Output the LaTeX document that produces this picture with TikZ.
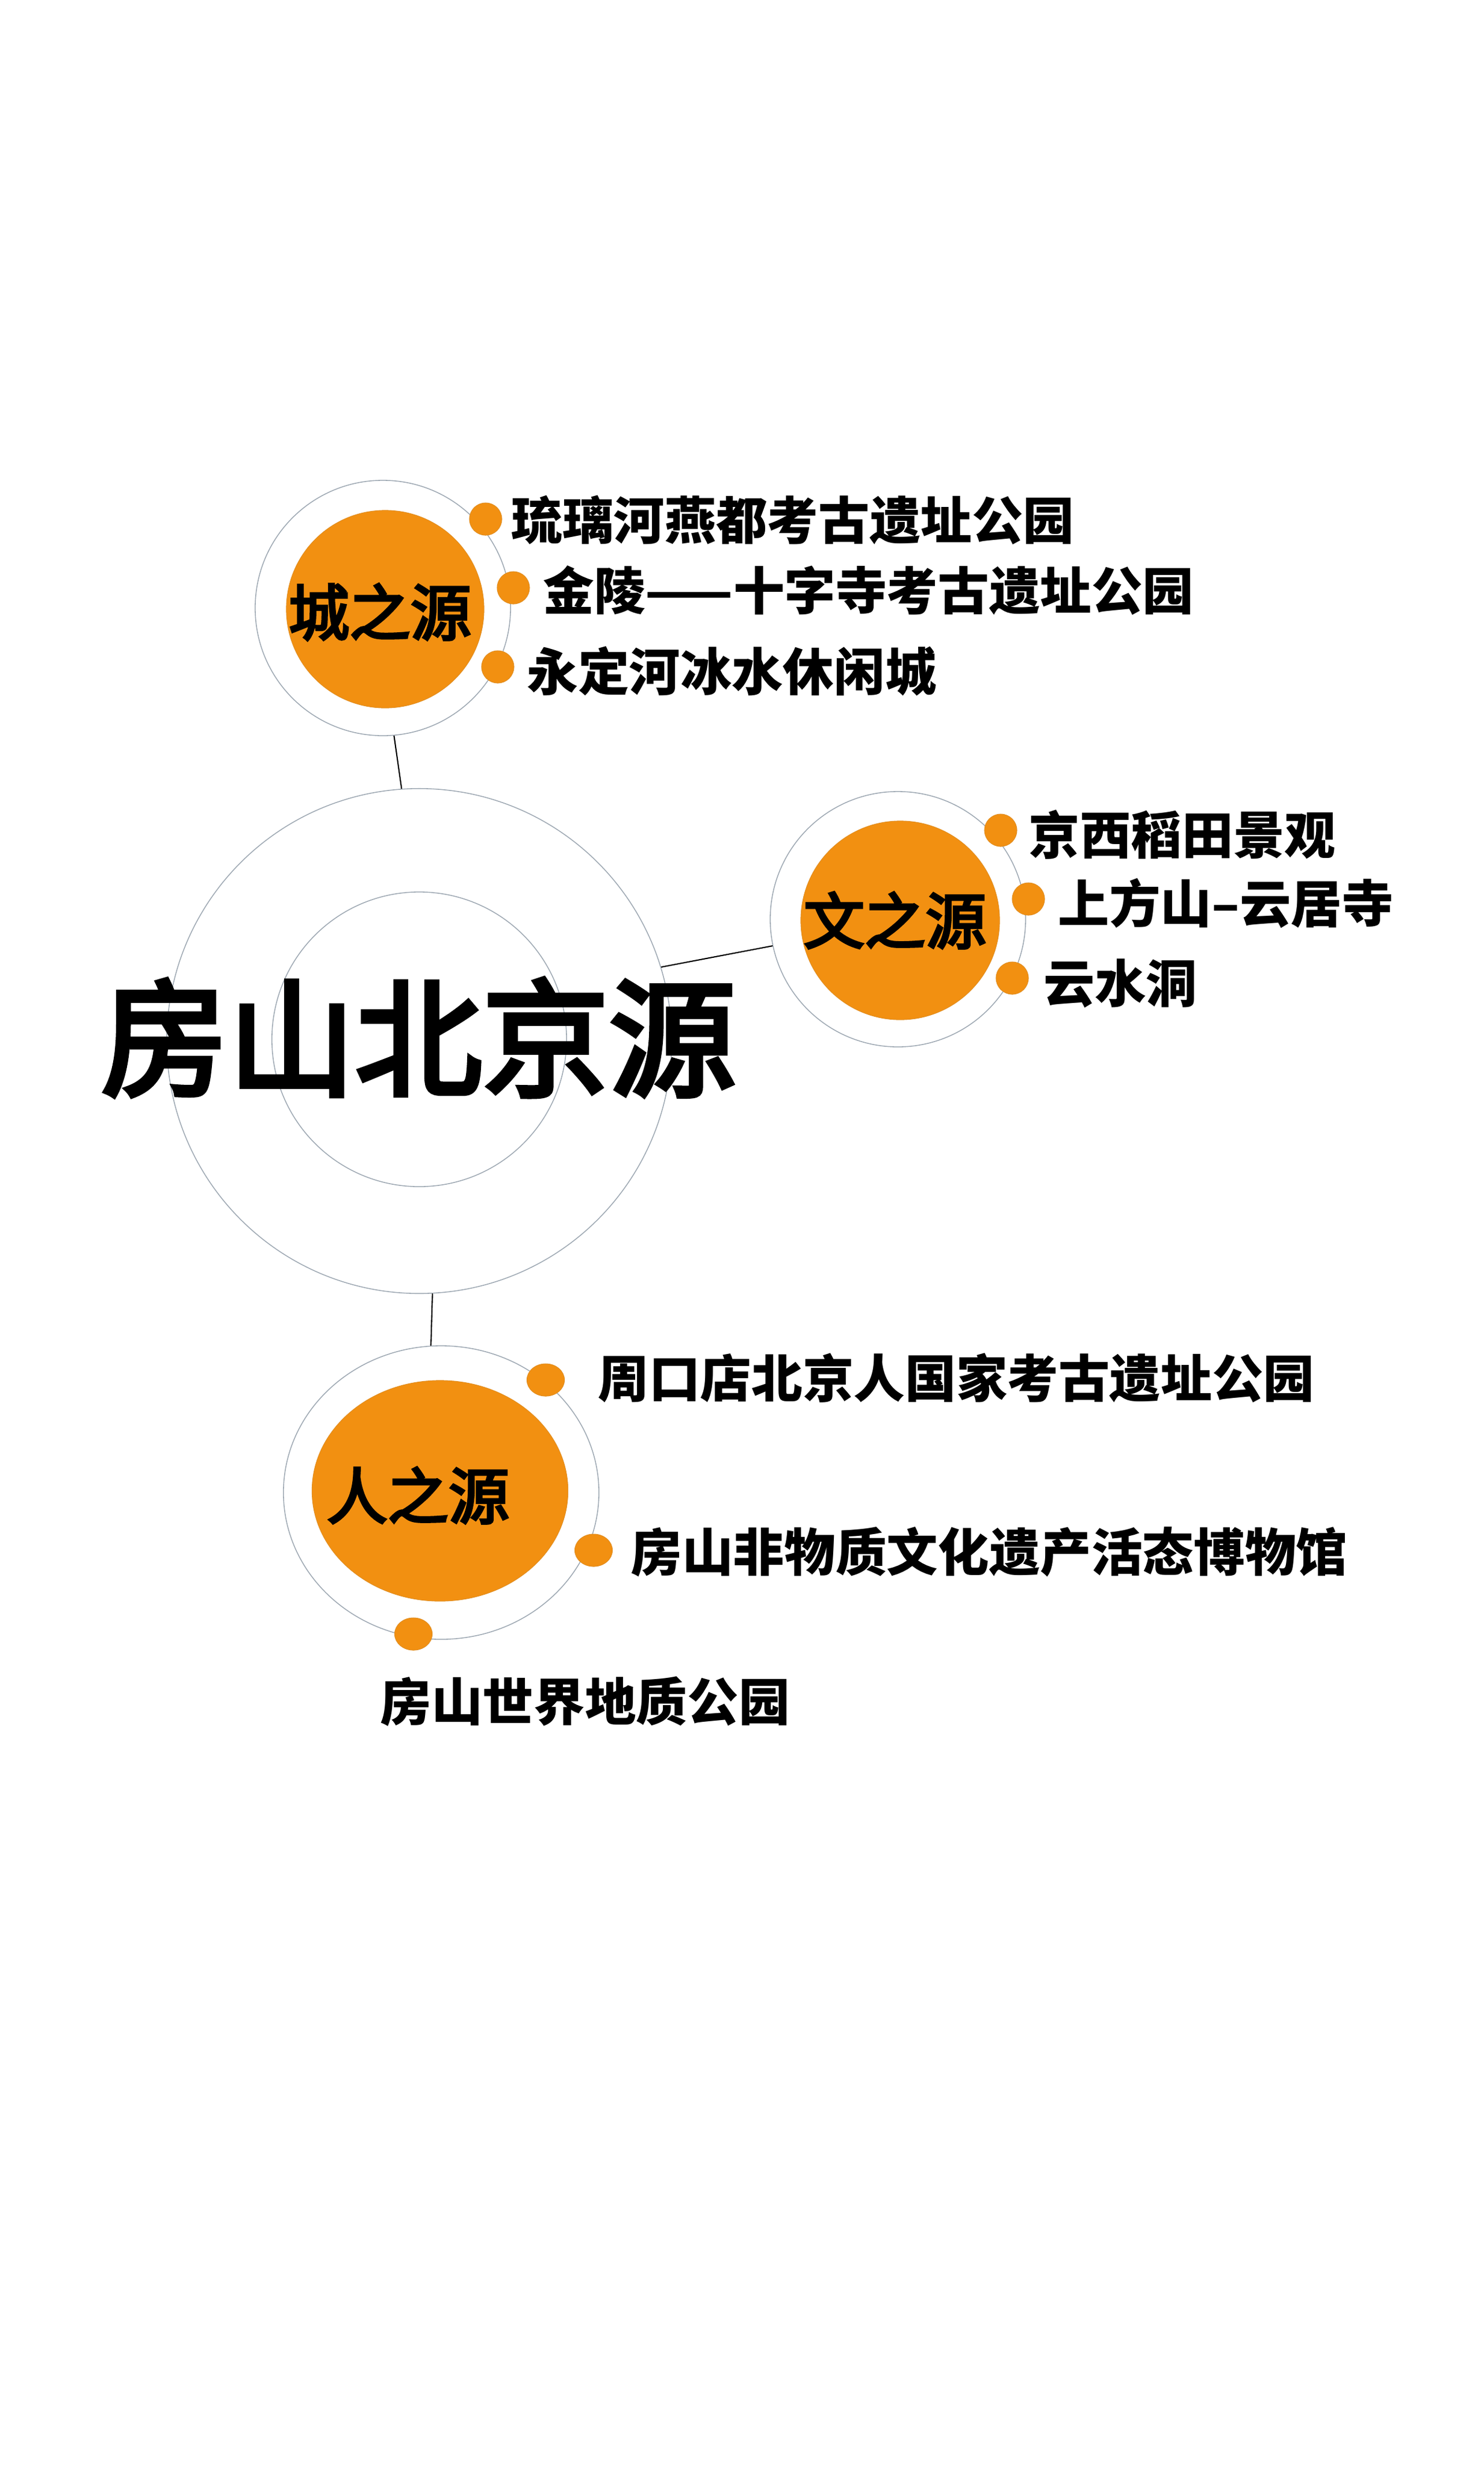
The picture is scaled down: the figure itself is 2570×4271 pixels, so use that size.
\documentclass[tikz,border=0pt]{standalone}
\usepackage{fontspec}
\setmainfont{Noto Sans CJK SC}
\newfontfamily\cjkmed{Noto Sans CJK SC}[FakeBold=4]
\usetikzlibrary{shapes.geometric}
\definecolor{srcorange}{RGB}{242,144,17}
\definecolor{ringgray}{RGB}{160,170,180}

\begin{document}
\begin{tikzpicture}[x=0.01cm, y=-0.01cm,
  ring/.style={draw=ringgray, line width=0.45pt, circle, inner sep=0pt},
  hub/.style={fill=srcorange, draw=srcorange!85!gray, line width=0.3pt, circle, inner sep=0pt},
  dot/.style={fill=srcorange, draw=srcorange!85!gray, line width=0.3pt, circle, minimum size=0.56cm, inner sep=0pt},
  hubtext/.style={inner sep=0pt, font=\fontsize{30}{36}\selectfont\cjkmed},
  item/.style={anchor=west, inner sep=0pt, font=\fontsize{25.2}{30}\selectfont\bfseries},
  link/.style={line width=0.6pt}]
\useasboundingbox (0,0) rectangle (2570,4271);
% centre
\node (main)[ring, minimum size=8.74cm] at (726,1803) {};
\node (inner)[ring, minimum size=5.10cm] at (726,1800) {};
\node (title)[inner sep=0pt, font=\fontsize{62.5}{70}\selectfont\cjkmed] at (725,1797) {房山北京源};
% cheng
\node (cring)[ring, minimum size=4.42cm] at (663,1053) {};
\node (cheng)[hub, minimum size=3.42cm] at (667,1055) {};
\node (chengT)[hubtext] at (658,1060) {城之源};
\node (c1)[dot] at (841,899) {};
\node (c2)[dot] at (889,1018) {};
\node (c3)[dot] at (862,1155) {};
\node (c1T)[item] at (885,901) {琉璃河燕都考古遗址公园};
\node (c2T)[item] at (940,1022) {金陵——十字寺考古遗址公园};
\node (c3T)[item] at (912,1162) {永定河冰水休闲城};
% wen
\node (wring)[ring, minimum size=4.42cm] at (1555,1592) {};
\node (wen)[hub, minimum size=3.44cm] at (1559,1594) {};
\node (wenT)[hubtext] at (1550,1594) {文之源};
\node (w1)[dot] at (1733,1438) {};
\node (w2)[dot] at (1781,1557) {};
\node (w3)[dot] at (1753,1694) {};
\node (w1T)[item] at (1781,1445) {京西稻田景观};
\node (w2T)[item] at (1832,1564) {上方山–云居寺};
\node (w3T)[item] at (1807,1703) {云水洞};
% ren
\node (rring)[ring, ellipse, minimum width=5.46cm, minimum height=5.08cm] at (764,2585) {};
\node (ren)[hub, ellipse, minimum width=4.43cm, minimum height=3.82cm] at (762,2582) {};
\node (renT)[hubtext] at (724,2590) {人之源};
\node (r1)[dot, ellipse, minimum width=0.65cm, minimum height=0.56cm] at (945,2390) {};
\node (r2)[dot, ellipse, minimum width=0.65cm, minimum height=0.56cm] at (1028,2685) {};
\node (r3)[dot, ellipse, minimum width=0.65cm, minimum height=0.56cm] at (716,2830) {};
\node (r1T)[item] at (1035,2386) {周口店北京人国家考古遗址公园};
\node (r2T)[item] at (1092,2688) {房山非物质文化遗产活态博物馆};
\node (r3T)[item] at (658,2947) {房山世界地质公园};
% links
\draw[link] (cring.-85) -- (main.94);
\draw[link] (main.17.5) -- (wring.192);
\draw[link] (main.-87) -- (rring.94);
\end{tikzpicture}
\end{document}
